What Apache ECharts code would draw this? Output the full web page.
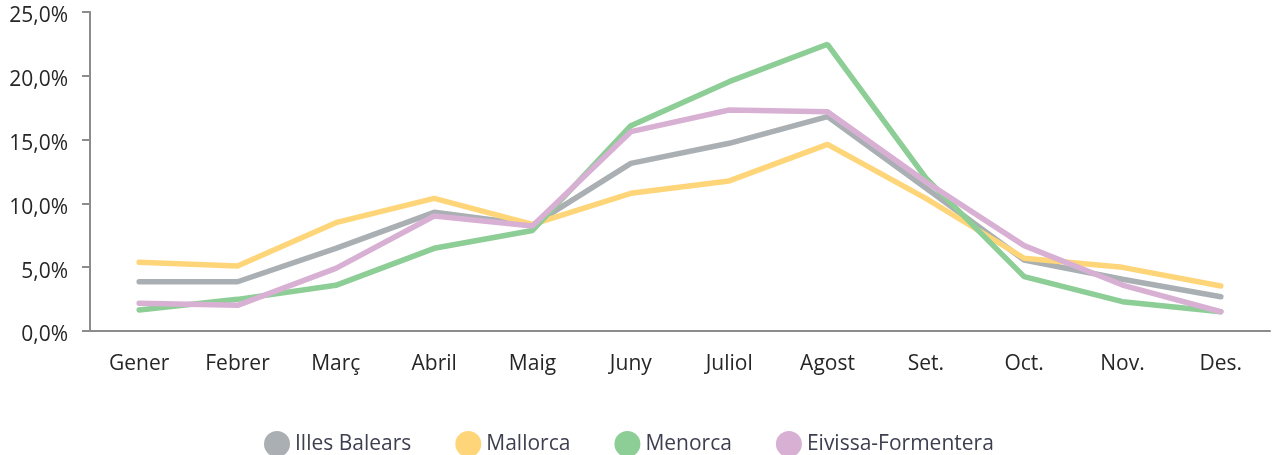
<!DOCTYPE html>
<html>
<head>
<meta charset="utf-8">
<script src="https://cdn.jsdelivr.net/npm/echarts@6/dist/echarts.min.js"></script>
<style>
  html, body { margin: 0; padding: 0; background: #fff; }
  #chart { width: 1274px; height: 455px; }
</style>
</head>
<body>
<div id="chart"></div>
<script>
// months (Catalan)
const months = ['Gener', 'Febrer', 'Març', 'Abril', 'Maig', 'Juny', 'Juliol', 'Agost', 'Set.', 'Oct.', 'Nov.', 'Des.']
const seriesNames = ['Illes Balears', 'Mallorca', 'Menorca', 'Eivissa-Formentera']
// monthly share, %
const illesBalears = [3.86, 3.86, 6.48, 9.30, 8.30, 13.14, 14.71, 16.80, 11.2, 5.56, 4.05, 2.69]
const mallorca = [5.38, 5.09, 8.49, 10.40, 8.36, 10.79, 11.76, 14.63, 10.4, 5.70, 4.99, 3.53]
const menorca = [1.65, 2.48, 3.58, 6.48, 7.88, 16.09, 19.54, 22.47, 12.0, 4.26, 2.30, 1.51]
const eivissa = [2.17, 2.01, 4.91, 9.01, 8.23, 15.62, 17.32, 17.19, 11.7, 6.69, 3.60, 1.51]
const colors = ['#a9afb2', '#ffd57a', '#8dcd96', '#d8b0d3']

const FONT = '"Open Sans", "DejaVu Sans", sans-serif'
const axisGrey = '#8c8c8c'

let chart = echarts.init(document.getElementById('chart'))

const lineSeries = [illesBalears, mallorca, menorca, eivissa].map((data, i) => ({
  name: seriesNames[i],
  type: 'line',
  data: data,
  symbol: 'none',
  lineStyle: {
    width: 5.5,
    color: colors[i],
    cap: 'round'
  },
  itemStyle: { color: colors[i] },
  emphasis: { disabled: true }
}))

chart.setOption({
  animation: false,
  color: colors,
  textStyle: { fontFamily: FONT },
  grid: {
    left: 90,
    right: 4,
    top: 12,
    bottom: 124
  },
  legend: {
    data: seriesNames,
    left: 259,
    top: 426,
    icon: 'circle',
    itemWidth: 26,
    itemHeight: 26,
    itemGap: 44,
    textStyle: {
      color: '#3d3f4f',
      fontSize: 21,
      fontFamily: FONT
    }
  },
  xAxis: {
    type: 'category',
    data: months,
    axisLine: { lineStyle: { color: axisGrey, width: 2 } },
    axisTick: { length: 7, lineStyle: { color: axisGrey, width: 2 } },
    axisLabel: {
      color: '#262626',
      fontSize: 21,
      margin: 23,
      fontFamily: FONT
    }
  },
  yAxis: {
    type: 'value',
    min: 0,
    max: 25,
    interval: 5,
    axisLine: { show: true, lineStyle: { color: axisGrey, width: 2 } },
    axisTick: { show: true, length: 8, lineStyle: { color: axisGrey, width: 2 } },
    splitLine: { show: false },
    axisLabel: {
      color: '#262626',
      fontSize: 21,
      margin: 22,
      fontFamily: FONT,
      formatter: value => '{v|' + value.toFixed(1).replace('.', ',') + '%}',
      rich: {
        v: {
          color: '#262626',
          fontSize: 21,
          fontFamily: FONT,
          padding: [9, 0, 0, 0]
        }
      }
    }
  },
  series: lineSeries
})
</script>
</body>
</html>
